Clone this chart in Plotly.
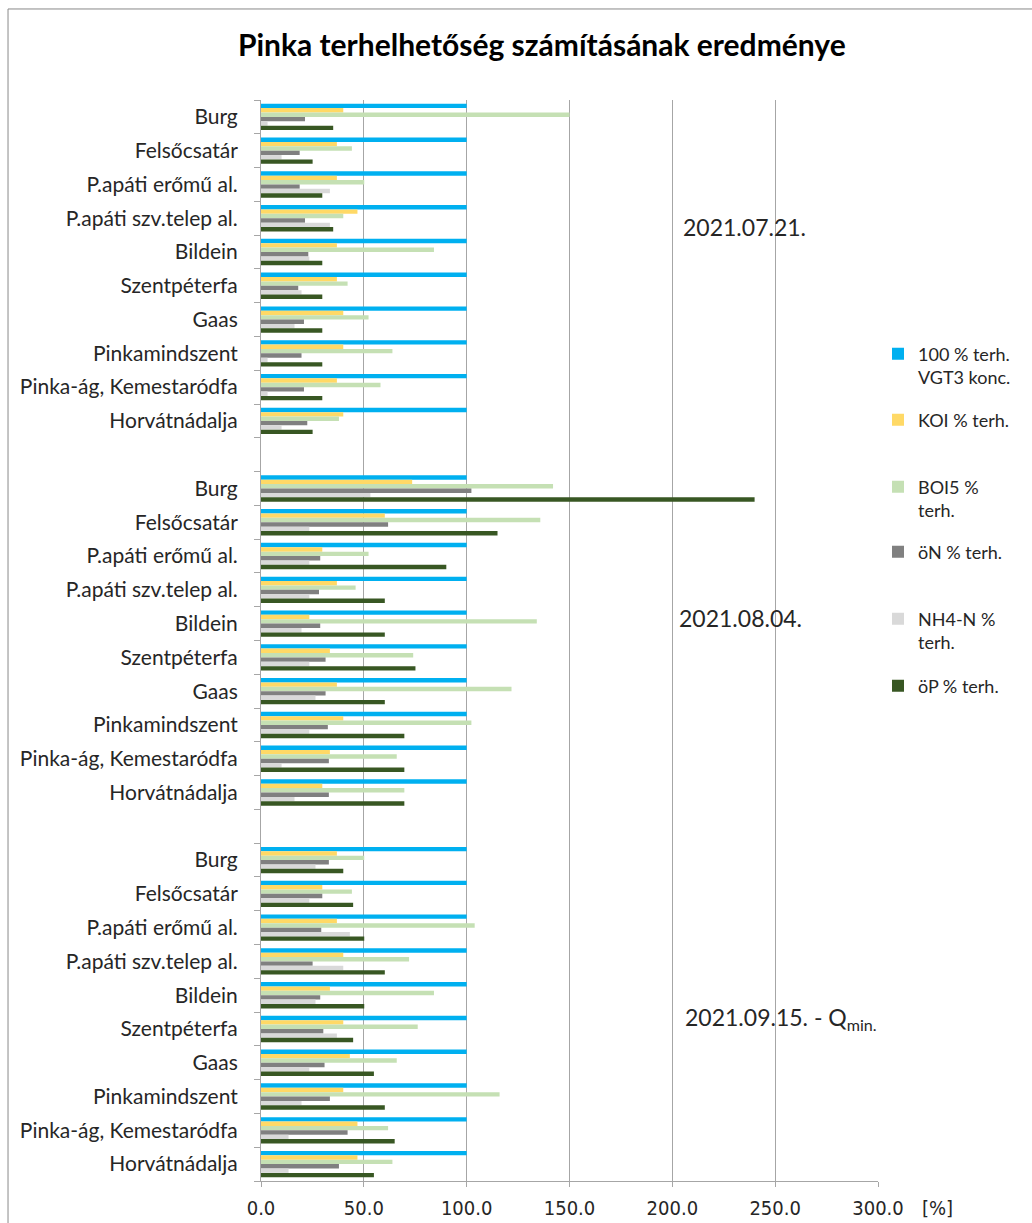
import plotly.graph_objects as go

# Sampling dates (one block of stations per date)
dates = ["2021.07.21.", "2021.08.04.", "2021.09.15. - Q<sub>min.</sub>"]

# Monitoring stations, upstream to downstream
stations = [
    "Burg", "Felsőcsatár", "P.apáti erőmű al.", "P.apáti szv.telep al.", "Bildein",
    "Szentpéterfa", "Gaas", "Pinkamindszent", "Pinka-ág, Kemestaródfa", "Horvátnádalja",
]

# Load ratios in % of the VGT3 limit, 10 values per date (07.21 / 08.04 / 09.15)
limit_100 = [100] * 30
koi = [40.0, 36.9, 36.9, 46.9, 36.9, 36.9, 40.0, 40.0, 36.9, 40.0,
       73.5, 60.2, 29.8, 36.9, 23.5, 33.5, 36.9, 40.0, 33.5, 29.8,
       36.9, 29.8, 36.9, 40.0, 33.5, 40.0, 43.2, 40.0, 46.9, 46.9]
boi5 = [150.0, 44.2, 50.2, 40.0, 84.1, 42.1, 52.3, 63.9, 58.1, 37.9,
        142.0, 135.8, 52.3, 46.0, 134.1, 74.0, 121.8, 102.3, 66.0, 69.7,
        50.2, 44.2, 103.9, 72.0, 84.1, 76.2, 66.0, 116.0, 61.8, 63.9]
ossz_n = [21.4, 18.8, 18.8, 21.4, 23.0, 18.1, 20.9, 19.7, 20.9, 22.5,
          102.3, 61.8, 28.8, 28.2, 28.8, 31.4, 31.4, 32.5, 33.0, 33.0,
          33.0, 29.8, 29.3, 25.1, 28.8, 30.3, 30.9, 33.5, 42.1, 37.9]
nh4_n = [3.2, 10.0, 33.5, 33.5, 23.5, 19.7, 16.3, 3.2, 3.2, 10.0,
         53.2, 23.5, 23.5, 23.5, 19.7, 23.5, 26.5, 23.5, 10.0, 16.3,
         26.5, 23.5, 43.2, 40.0, 26.5, 36.9, 23.5, 19.7, 13.4, 13.4]
ossz_p = [35.1, 25.1, 29.8, 35.1, 29.8, 29.8, 29.8, 29.8, 29.8, 25.1,
          240.0, 115.0, 90.1, 60.2, 60.2, 75.1, 60.2, 69.7, 69.7, 69.7,
          40.0, 44.8, 50.2, 60.2, 50.2, 44.8, 54.9, 60.2, 65.0, 54.9]

series_names = ["100 % terh.<br>VGT3 konc.", "KOI % terh.", "BOI5 %<br>terh.",
                "öN % terh.", "NH4-N %<br>terh.", "öP % terh."]
series_values = [limit_100, koi, boi5, ossz_n, nh4_n, ossz_p]
series_colors = ["#00B0F0", "#FFD966", "#C5E0B4", "#808080", "#D9D9D9", "#385723"]

# one empty category slot between the date blocks
n_st = len(stations)
positions = [g * (n_st + 1) + i for g in range(len(dates)) for i in range(n_st)]
n_slots = len(dates) * (n_st + 1) - 1   # 32 slots: 0 .. 31

GRID = "#A6A6A6"
TEXT = "#262626"
LABEL_FONT = "Lato, Calibri, 'Open Sans', sans-serif"
NARROW_FONT = "'Liberation Sans Narrow', 'DejaVu Sans Condensed', sans-serif"

# each series gets its own legend box so the entries sit on an even pitch
legend_ids = ["legend"] + [f"legend{k}" for k in range(2, len(series_names) + 1)]
legend_top_y = [0.782, 0.721, 0.659, 0.599, 0.537, 0.475]

fig = go.Figure()
for name, vals, col, lid in zip(series_names, series_values, series_colors, legend_ids):
    fig.add_trace(go.Bar(
        x=vals, y=positions, orientation="h", name=name,
        marker=dict(color=col, line=dict(width=0)),
        legend=lid, showlegend=True,
        hoverinfo="x+name",
    ))

legend_layout = {
    lid: dict(x=1.0, xanchor="left", y=ly, yanchor="top", valign="top",
              font=dict(family=LABEL_FONT, size=18, color=TEXT),
              bgcolor="rgba(0,0,0,0)", borderwidth=0, visible=True)
    for lid, ly in zip(legend_ids, legend_top_y)
}

fig.update_layout(
    template="none",
    showlegend=True,
    width=1032, height=1223,
    margin=dict(l=261, r=154, t=100, b=42),
    paper_bgcolor="white", plot_bgcolor="white",
    font=dict(family=LABEL_FONT, color=TEXT),
    barmode="group", bargap=0.22, bargroupgap=0.0,
    title=dict(text="<b>Pinka terhelhetőség számításának eredménye</b>",
               x=0.525, xanchor="center", y=0.963, yanchor="middle",
               font=dict(family=LABEL_FONT, size=30, color="#000000")),
    xaxis=dict(range=[0, 300], dtick=50, tick0=0, tickformat=".1f",
               automargin=False,
               showgrid=True, gridcolor=GRID, gridwidth=1,
               showline=True, linecolor=GRID, linewidth=1,
               ticks="outside", ticklen=5, tickcolor=GRID,
               ticklabelstandoff=4,
               zeroline=False,
               tickfont=dict(family=NARROW_FONT, size=20, color=TEXT)),
    yaxis=dict(range=[n_slots - 0.5, -0.5],
               automargin=False,
               tickmode="array", tickvals=positions, ticktext=stations * len(dates),
               ticks="", ticklabelstandoff=18,
               showgrid=False, zeroline=False,
               showline=True, linecolor=GRID, linewidth=1,
               tickfont=dict(family=LABEL_FONT, size=21, color=TEXT),
               minor=dict(tickvals=[k - 0.5 for k in range(n_slots + 1)],
                          ticks="outside", ticklen=6, tickcolor=GRID, showgrid=False)),
    **legend_layout,
)

# date labels for each block
date_y = [3.26, 14.83, 26.7]
date_x = [204.0, 202.5, 205.0]
for txt, xx, yy in zip(dates, date_x, date_y):
    fig.add_annotation(x=xx, y=yy, xref="x", yref="y", text=txt, showarrow=False,
                       xanchor="left", yanchor="middle",
                       font=dict(family=LABEL_FONT, size=23, color=TEXT))

# unit label next to the value axis
fig.add_annotation(x=1.096, y=-0.025, xref="paper", yref="paper", text="[%]",
                   showarrow=False, xanchor="center", yanchor="middle",
                   font=dict(family=NARROW_FONT, size=20, color=TEXT))

# chart frame
fig.add_shape(type="rect", xref="paper", yref="paper",
              x0=-0.410, x1=1.27, y0=-0.05, y1=1.0842,
              line=dict(color="#898989", width=1), fillcolor="rgba(0,0,0,0)", layer="below")

fig.write_html("out.html")
